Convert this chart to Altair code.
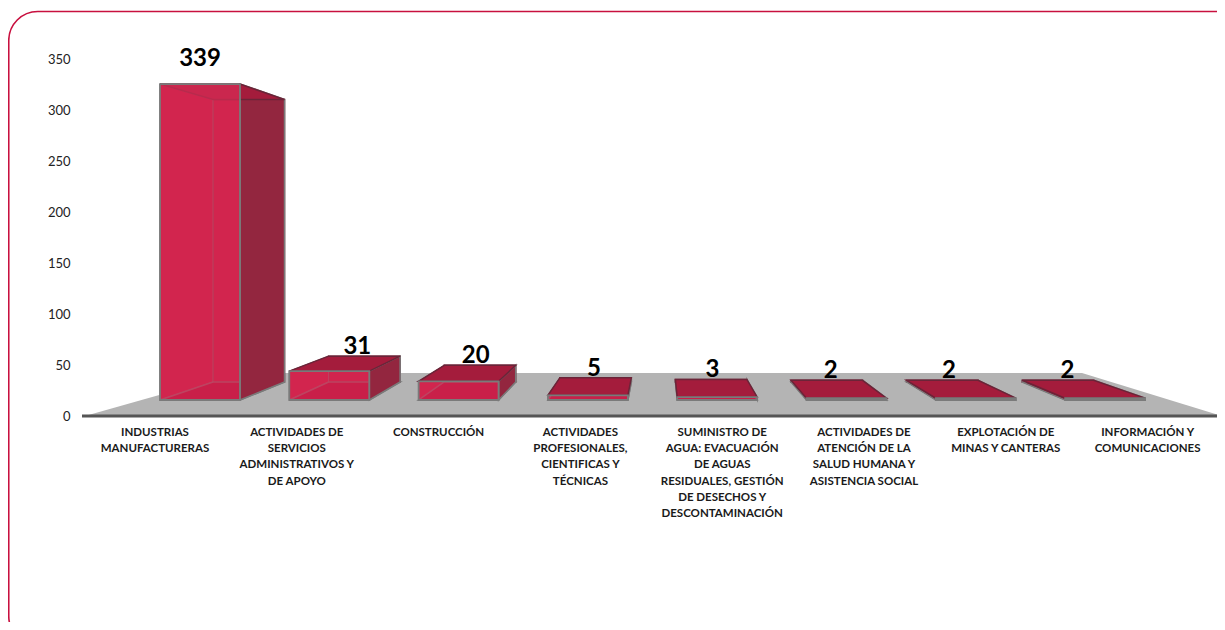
import altair as alt
import pandas as pd

# ---- data ----
categories = [
    ["INDUSTRIAS", "MANUFACTURERAS"],
    ["ACTIVIDADES DE", "SERVICIOS", "ADMINISTRATIVOS Y", "DE APOYO"],
    ["CONSTRUCCIÓN"],
    ["ACTIVIDADES", "PROFESIONALES,", "CIENTIFICAS Y", "TÉCNICAS"],
    ["SUMINISTRO DE", "AGUA: EVACUACIÓN", "DE AGUAS", "RESIDUALES, GESTIÓN", "DE DESECHOS Y", "DESCONTAMINACIÓN"],
    ["ACTIVIDADES DE", "ATENCIÓN DE LA", "SALUD HUMANA Y", "ASISTENCIA SOCIAL"],
    ["EXPLOTACIÓN DE", "MINAS Y CANTERAS"],
    ["INFORMACIÓN Y", "COMUNICACIONES"],
]
values = [339, 31, 20, 5, 3, 2, 2, 2]
y_ticks = [0, 50, 100, 150, 200, 250, 300, 350]

# ---- layout constants (page pixels) ----
W, H = 1209, 614
PX_PER_UNIT = 1.02
ZERO_Y = 416
BAR_BASE_Y = 400
FORESHORTEN = 0.932
BAR_X0, BAR_STEP, BAR_W = 160, 129.3, 80
VX, VY, DEPTH = 660, 230, 0.106      # vanishing point and depth of the perspective
LABEL_X0, LABEL_STEP, LABEL_TOP = 155, 141.8, 427


def u(py):
    """page y -> value on the axis scale"""
    return (ZERO_Y - py) / PX_PER_UNIT


xs = alt.Scale(domain=[8, 8 + W], range=[0, W], nice=False, zero=False)
ys = alt.Scale(domain=[u(8 + H), u(8)], range=[H, 0], nice=False, zero=False)
X = lambda f: alt.X(f, type="quantitative", scale=xs, axis=None)
Y = lambda f: alt.Y(f, type="quantitative", scale=ys, axis=None)


def back_x(x):
    return x + DEPTH * (VX - x)


def back_y(y):
    return y + DEPTH * (VY - y)


rows_front, rows_back, rows_side, rows_left, rows_top, rows_floor, rows_text = [], [], [], [], [], [], []
for i, v in enumerate(values):
    fl = BAR_X0 + i * BAR_STEP
    fr = fl + BAR_W
    bl, br = back_x(fl), back_x(fr)
    ft = BAR_BASE_Y - FORESHORTEN * v
    fb = BAR_BASE_Y
    bt, bb = back_y(ft), back_y(fb)
    rows_front.append(dict(x=fl, x2=fr, y=u(fb), y2=u(ft)))
    rows_back.append(dict(x=bl, x2=br, y=u(bb), y2=u(bt)))
    rows_side += [dict(b=i, x=fr, y=u(fb), y2=u(ft)), dict(b=i, x=br, y=u(bb), y2=u(bt))]
    rows_left += [dict(b=i, x=fl, y=u(fb), y2=u(ft)), dict(b=i, x=bl, y=u(bb), y2=u(bt))]
    rows_top += [dict(b=i, y=u(ft), x=fl, x2=fr), dict(b=i, y=u(bt), x=bl, x2=br)]
    rows_floor += [dict(b=i, y=u(fb), x=fl, x2=fr), dict(b=i, y=u(bb), x=bl, x2=br)]
    tall = ft < bt
    rows_text.append(dict(
        t=str(v),
        x=(fl + fr) / 2 if tall else 0.2 * (fl + fr) / 2 + 0.8 * (bl + br) / 2,
        y=u((ft - 18) if tall else (bt - 2)),
    ))

STROKE = "#6b2438"
GRAY = "#7a7a7a"

axis_layer = alt.Chart(pd.DataFrame(dict(v=y_ticks))).mark_point(opacity=0).encode(
    x=alt.value(0),
    y=alt.Y("v:Q", scale=ys, axis=alt.Axis(
        values=y_ticks, title=None, grid=False, domain=False, ticks=False,
        labelFont="Lato", labelFontSize=13, labelColor="#222222",
        labelPadding=0, offset=-62, labelOverlap=False, labelFlush=False,
    )),
)

border = alt.Chart(pd.DataFrame([dict(x=8.75, x2=1250, y=u(11.5), y2=u(645))])).mark_rect(
    fill="white", fillOpacity=0, stroke="#C8103F", strokeWidth=1.6, cornerRadius=29
).encode(x=X("x"), x2="x2", y=Y("y"), y2="y2")

floor = alt.Chart(pd.DataFrame([
    dict(y=u(ZERO_Y), x=85, x2=1222),
    dict(y=u(373), x=237, x2=1082),
])).mark_area(orient="horizontal", color="#B4B4B4").encode(x=X("x"), x2="x2", y=Y("y"))

base = alt.Chart(pd.DataFrame([dict(x=82, x2=1222, y=u(ZERO_Y))])).mark_rule(
    color="#555555", strokeWidth=3
).encode(x=X("x"), x2="x2", y=Y("y"))

back = alt.Chart(pd.DataFrame(rows_back)).mark_rect(
    fill="#C0153F", stroke=STROKE, strokeWidth=1.5
).encode(x=X("x"), x2="x2", y=Y("y"), y2="y2")

left = alt.Chart(pd.DataFrame(rows_left)).mark_area(
    orient="vertical", fill="#C0153F", stroke=GRAY, strokeWidth=1
).encode(x=X("x"), y=Y("y"), y2="y2", detail="b:N")

bar_floor = alt.Chart(pd.DataFrame(rows_floor)).mark_area(
    orient="horizontal", fill="#A0002E", stroke=GRAY, strokeWidth=1.5
).encode(x=X("x"), x2="x2", y=Y("y"), detail="b:N")

side = alt.Chart(pd.DataFrame(rows_side)).mark_area(
    orient="vertical", fill="#93263F", stroke=GRAY, strokeWidth=1.5
).encode(x=X("x"), y=Y("y"), y2="y2", detail="b:N")

top = alt.Chart(pd.DataFrame(rows_top)).mark_area(
    orient="horizontal", fill="#A41C3C", stroke=STROKE, strokeWidth=1.5
).encode(x=X("x"), x2="x2", y=Y("y"), detail="b:N")

front = alt.Chart(pd.DataFrame(rows_front)).mark_rect(
    fill="#DA2C56", fillOpacity=0.7, stroke=GRAY, strokeWidth=1.8
).encode(x=X("x"), x2="x2", y=Y("y"), y2="y2")

value_text = alt.Chart(pd.DataFrame(rows_text)).mark_text(
    font="Lato", fontWeight="bold", fontSize=24, color="black", baseline="alphabetic"
).encode(x=X("x"), y=Y("y"), text="t:N")

cat_df = pd.DataFrame(dict(
    t=categories,
    x=[LABEL_X0 + i * LABEL_STEP for i in range(len(categories))],
    y=[u(LABEL_TOP)] * len(categories),
))
cat_text = alt.Chart(cat_df).mark_text(
    font="Lato", fontWeight="bold", fontSize=11.5, color="#1a1a1a",
    baseline="top", align="center", lineHeight=16.2
).encode(x=X("x"), y=Y("y"), text="t")

chart = alt.layer(
    axis_layer, border, floor, base, back, left, bar_floor, side, top, front, value_text, cat_text
).resolve_axis(y="independent").properties(
    width=W, height=H, padding=0,
    autosize=alt.AutoSizeParams(type="none"),
    background="white",
).configure_view(stroke=None)

chart.save("out.html", embed_options={"renderer": "svg", "actions": False})
